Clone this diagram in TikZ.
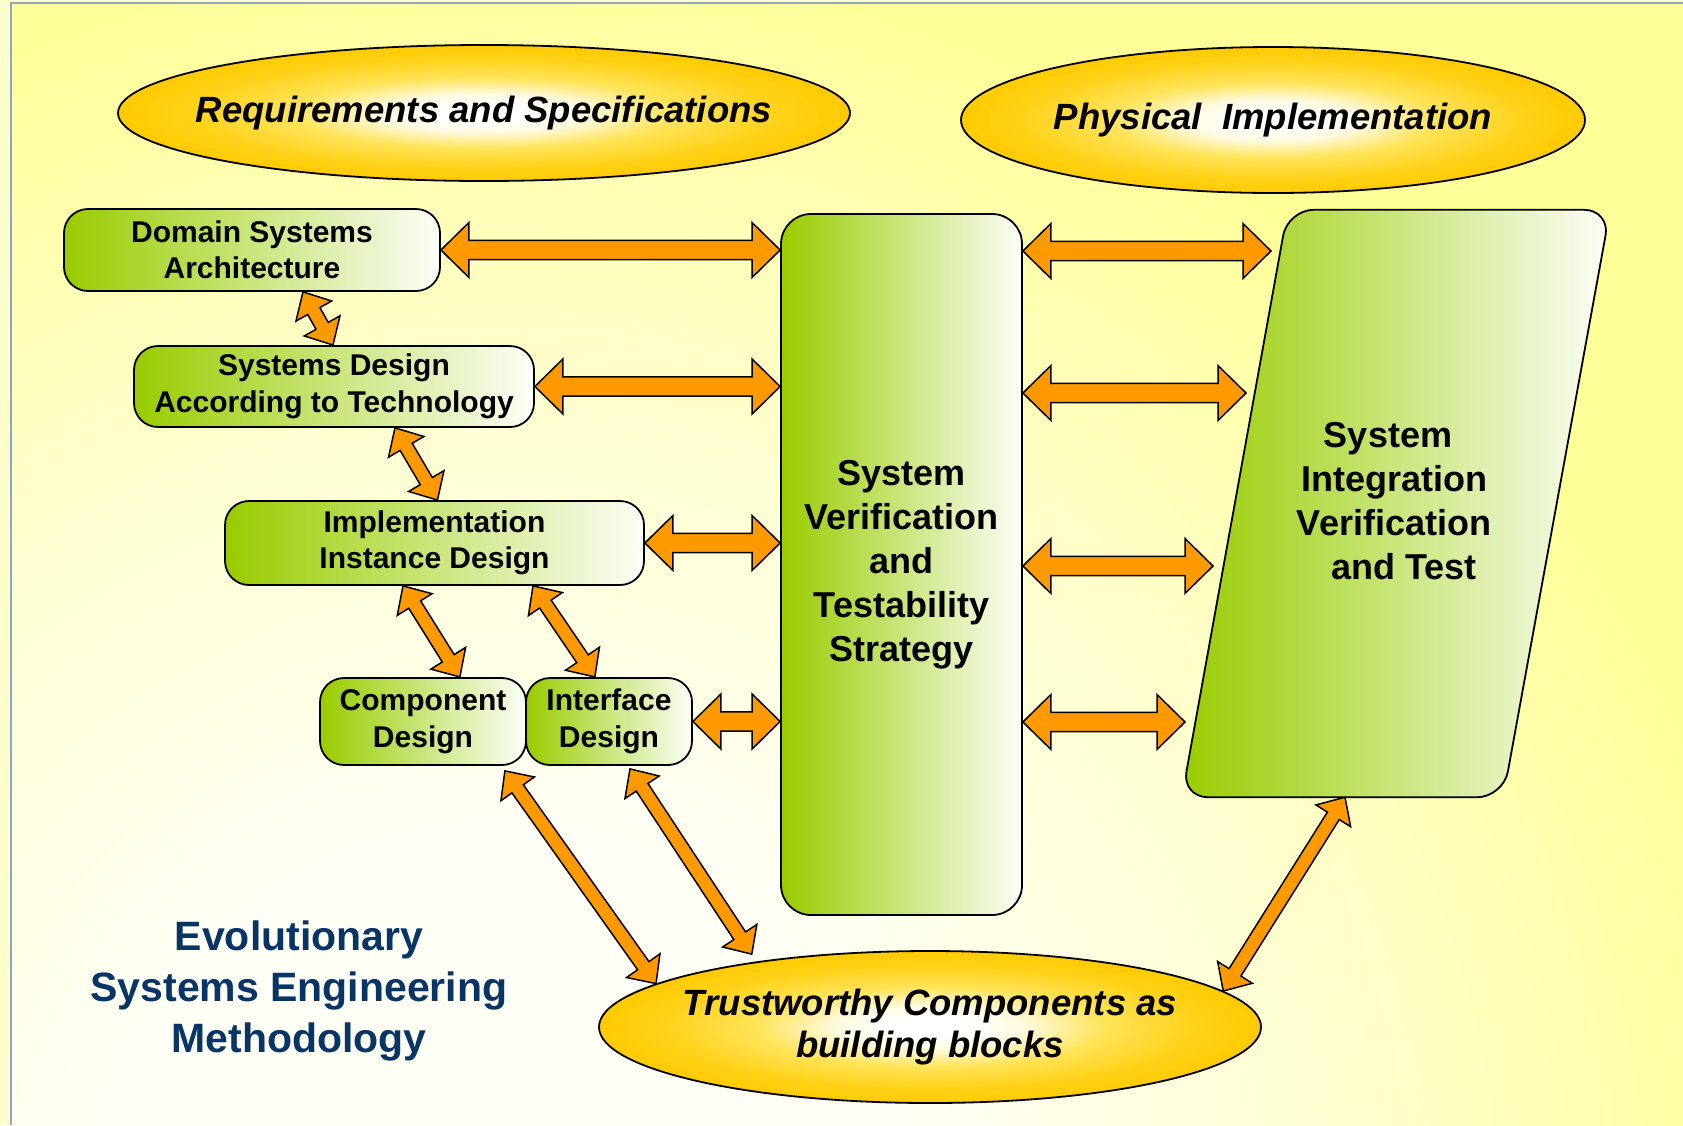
\documentclass[tikz,border=0pt]{standalone}
\usepackage{fontspec}
\setmainfont{Liberation Sans}
\usetikzlibrary{calc,shapes.geometric}

\definecolor{outerbg}{RGB}{255,255,204}
\definecolor{framecol}{RGB}{143,165,200}
\definecolor{bgA}{RGB}{255,255,246}
\definecolor{bgB}{RGB}{255,255,210}
\definecolor{bgC}{RGB}{255,255,153}
\definecolor{gleft}{RGB}{153,204,0}
\definecolor{gright}{RGB}{252,254,248}
\definecolor{goldA}{RGB}{255,250,225}
\definecolor{goldB}{RGB}{255,228,90}
\definecolor{goldC}{RGB}{255,210,26}
\definecolor{goldD}{RGB}{255,202,0}
\definecolor{arrowfill}{RGB}{255,153,0}
\definecolor{evoblue}{RGB}{8,52,102}

% radial shadings: the shaded path's border sits at 25bp
\pgfdeclareradialshading{goldglow}{\pgfpoint{0bp}{0bp}}{color(0bp)=(white); color(3bp)=(white); color(7bp)=(goldA); color(13bp)=(goldB); color(20bp)=(goldC); color(25bp)=(goldD); color(50bp)=(goldD)}
\pgfdeclareradialshading{bgglow}{\pgfpoint{0bp}{0bp}}{color(0bp)=(bgA); color(8bp)=(bgA); color(16bp)=(bgB); color(25bp)=(bgC); color(50bp)=(bgC)}

% zero-width line, so the text does not widen its ellipse
\newcommand\zw[1]{\makebox[0pt]{#1}}

% double-headed block arrow between two points
\newcommand\blockarrow[3][]{%
  \path[arrowbody,#1] let \p1=(#2), \p2=(#3),
    \n1={atan2(\y2-\y1,\x2-\x1)}, \n2={veclen(\x2-\x1,\y2-\y1)} in
    {[shift={(\p1)},rotate=\n1]
     (0,0) -- (\arHL,\arHW) -- (\arHL,\arSW) -- ({\n2-\arHL},\arSW)
     -- ({\n2-\arHL},\arHW) -- (\n2,0) -- ({\n2-\arHL},-\arHW)
     -- ({\n2-\arHL},-\arSW) -- (\arHL,-\arSW) -- (\arHL,-\arHW) -- cycle};}

\tikzset{
  headlen/.store in=\arHL, headhalf/.store in=\arHW, shafthalf/.store in=\arSW,
  arrowbody/.style={fill=arrowfill, draw=black, line width=1.5pt, line join=miter},
  horiz/.style={headlen=28, headhalf=27.5, shafthalf=9.7},
  diag/.style={headlen=22, headhalf=20.5, shafthalf=7},
  greenbox/.style={draw=black, line width=1.8pt, rounded corners=24pt,
    left color=gleft, right color=gright, align=center, inner sep=0pt,
    font=\bfseries\fontsize{30}{36.5}\selectfont},
  bigtext/.style={align=center, inner sep=0pt,
    font=\bfseries\fontsize{36}{44}\selectfont},
  goldell/.style={ellipse, draw=black, line width=1.8pt, shade, shading=goldglow,
    inner sep=0pt, align=center, font=\bfseries\itshape\fontsize{36.5}{42}\selectfont},
  evotext/.style={align=center, inner sep=0pt, text=evoblue,
    font=\bfseries\fontsize{41}{51}\selectfont}
}

\begin{document}
\begin{tikzpicture}[x=1pt,y=-1pt]
\useasboundingbox (0,0) rectangle (1683,1125);

% page background and frame
\fill[outerbg] (0,0) rectangle (1683,1125);
\begin{scope}
  \clip (11,3) rectangle (1683,1125);
  \fill[bgC] (11,3) rectangle (1683,1125);
  \shade[shading=bgglow] (500,1250) circle[radius=1300];
\end{scope}
\draw[framecol, line width=2pt] (11,1125) -- (11,3) -- (1683,3);

% top and bottom ellipses
\node[goldell, minimum width=732pt, minimum height=136pt] (rs) at (484,113)
  {\zw{Requirements and Specifications}};
\node[goldell, minimum width=624pt, minimum height=146pt] (pi) at (1273,120)
  {\zw{Physical~~Implementation}};
\node[goldell, minimum width=662pt, minimum height=152pt] (tcb) at (930,1027)
  {\zw{Trustworthy Components as}\\\zw{building blocks}};

% design boxes
\node[greenbox, minimum width=376pt, minimum height=82pt] (dsa) at (252,250)
  {Domain Systems\\Architecture};
\node[greenbox, minimum width=400pt, minimum height=81pt] (sdt) at (334,386.5)
  {Systems Design\\According to Technology};
\node[greenbox, minimum width=419pt, minimum height=84pt] (iid) at (434.5,543)
  {Implementation\\Instance Design};
\node[greenbox, minimum width=206pt, minimum height=87pt] (cmp) at (423,721.5)
  {Component\\Design};
\node[greenbox, minimum width=166pt, minimum height=87pt] (ifd) at (609,721.5)
  {Interface\\Design};

% verification strategy column
\node[greenbox, rounded corners=30pt, minimum width=241pt, minimum height=701pt,
  font=\bfseries\fontsize{36}{44}\selectfont] (svts) at (901.5,564.5)
  {System\\Verification\\and\\Testability\\Strategy};

% integration parallelogram
\node[minimum width=428pt, minimum height=587pt, inner sep=0pt] (sivt) at (1396,503.5) {};
\path[draw=black, line width=1.8pt, left color=gleft, right color=gright, rounded corners=26pt]
  (sivt.north) -- (sivt.north east) -- ([xshift=-107pt]sivt.south east)
  -- (sivt.south west) -- ([xshift=106pt]sivt.north west) -- cycle;
\node[bigtext] (sivtxt) at (1394,501)
  {System\hspace*{12pt}\\Integration\\Verification\\\hspace*{20pt}and Test};

% evolutionary title
\node[evotext] (evo) at (299,991) {Evolutionary\\Systems Engineering\\Methodology};

% arrow ends on the parallelogram side
\coordinate (r1) at (1271,251);
\coordinate (r2) at (1246,393);
\coordinate (r3) at (1213,566);
\coordinate (r4) at (1185,722);

% horizontal arrows
\blockarrow[horiz]{dsa.east}{svts.west |- dsa.east}
\blockarrow[horiz]{sdt.east}{svts.west |- sdt.east}
\blockarrow[horiz]{iid.east}{svts.west |- iid.east}
\blockarrow[horiz]{ifd.east}{svts.west |- ifd.east}
\blockarrow[horiz]{svts.east |- r1}{r1}
\blockarrow[horiz]{svts.east |- r2}{r2}
\blockarrow[horiz]{svts.east |- r3}{r3}
\blockarrow[horiz]{svts.east |- r4}{r4}

% diagonal arrows
\blockarrow[diag]{[xshift=51pt]dsa.south}{[xshift=-1pt]sdt.north}
\blockarrow[diag]{[xshift=61pt]sdt.south}{[xshift=3pt]iid.north}
\blockarrow[diag]{[xshift=-31.5pt]iid.south}{[xshift=37pt]cmp.north}
\blockarrow[diag]{[xshift=98.5pt]iid.south}{[xshift=-14pt]ifd.north}
\blockarrow[diag]{[xshift=-22pt,yshift=-5pt]cmp.south east}{tcb.171.5}
\blockarrow[diag]{[xshift=21pt,yshift=-3pt]ifd.south}{[yshift=8pt]tcb.160}
\blockarrow[diag]{[xshift=-51pt]sivt.south}{tcb.7}
\end{tikzpicture}
\end{document}
